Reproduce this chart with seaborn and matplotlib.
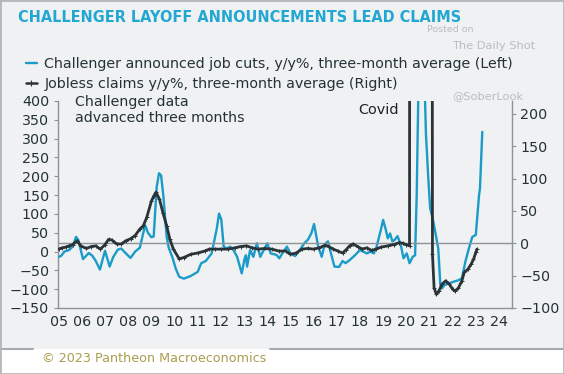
import pandas as pd
import numpy as np
import matplotlib
matplotlib.use("Agg")
import matplotlib.pyplot as plt
from matplotlib.lines import Line2D
from matplotlib.patches import Rectangle
import seaborn as sns

# Challenger job cuts, y/y%, 3m avg (left axis), advanced three months
cuts_year = [2005.00, 2005.10, 2005.25, 2005.45, 2005.60, 2005.75, 2005.85, 2006.05, 2006.30, 2006.45,
             2006.60, 2006.78, 2006.90, 2007.00, 2007.20, 2007.35, 2007.55, 2007.70, 2007.90, 2008.10,
             2008.30, 2008.50, 2008.73, 2008.85, 2009.00, 2009.10, 2009.23, 2009.33, 2009.42, 2009.52,
             2009.66, 2009.75, 2009.90, 2010.05, 2010.20, 2010.40, 2010.70, 2011.00, 2011.15, 2011.35,
             2011.60, 2011.72, 2011.82, 2011.92, 2012.02, 2012.12, 2012.25, 2012.40, 2012.55, 2012.70,
             2012.90, 2013.02, 2013.08, 2013.13, 2013.26, 2013.40, 2013.55, 2013.70, 2013.85, 2014.00,
             2014.15, 2014.40, 2014.52, 2014.70, 2014.85, 2015.00, 2015.20, 2015.40, 2015.60, 2015.75,
             2015.90, 2016.02, 2016.20, 2016.35, 2016.48, 2016.62, 2016.75, 2016.90, 2017.10, 2017.25,
             2017.38, 2017.55, 2017.80, 2018.00, 2018.30, 2018.45, 2018.60, 2018.72, 2018.90, 2019.00,
             2019.12, 2019.20, 2019.30, 2019.40, 2019.50, 2019.62, 2019.76, 2019.88, 2020.02, 2020.14,
             2020.28, 2020.38, 2020.45, 2020.52, 2020.62, 2020.72, 2020.81, 2020.85, 2020.95, 2021.03,
             2021.17, 2021.30, 2021.38, 2021.47, 2021.54, 2021.65, 2021.83, 2022.05, 2022.26, 2022.40,
             2022.55, 2022.70, 2022.85, 2023.00, 2023.07, 2023.14, 2023.18, 2023.28]
cuts_val = [-14, -12, 0, 4, 13, 39, 30, -20, -4, -11,
            -25, -48, -20, 2, -40, -15, 5, 8, -5, -17,
            0, 10, 70, 50, 38, 40, 172, 208, 202, 146,
            39, 10, -14, -45, -67, -72, -65, -54, -31, -25,
            -5, 30, 60, 101, 84, 13, 8, 13, 3, -14,
            -58, -20, -10, -40, 4, -14, 22, -14, 4, 22,
            -5, -9, -18, 0, 13, -5, -12, 4, 22, 31,
            48, 73, 13, -14, 19, 27, -5, -40, -41, -25,
            -31, -23, -9, 4, -5, 0, -5, 13, 57, 84,
            57, 35, 48, 27, 31, 41, 19, -18, -5, -31,
            -14, -10, 150, 420, 1500, 1800, 400, 310, 195, 115,
            79, 35, 8, -89, -98, -89, -85, -80, -76, -71,
            -27, 8, 39, 44, 97, 150, 168, 318]

# Jobless claims, y/y%, 3m avg (right axis)
claims_year = [2005.00, 2005.15, 2005.30, 2005.45, 2005.60, 2005.80, 2005.95, 2006.20, 2006.40, 2006.60,
               2006.80, 2007.00, 2007.15, 2007.30, 2007.50, 2007.70, 2007.90, 2008.10, 2008.30, 2008.50,
               2008.65, 2008.80, 2009.00, 2009.10, 2009.20, 2009.35, 2009.50, 2009.66, 2009.80, 2009.95,
               2010.20, 2010.40, 2010.70, 2011.00, 2011.30, 2011.50, 2011.75, 2012.00, 2012.30, 2012.60,
               2012.85, 2013.10, 2013.35, 2013.60, 2013.90, 2014.20, 2014.50, 2014.80, 2015.00, 2015.25,
               2015.50, 2015.75, 2016.00, 2016.25, 2016.50, 2016.65, 2016.85, 2017.05, 2017.25, 2017.40,
               2017.55, 2017.70, 2017.90, 2018.10, 2018.30, 2018.50, 2018.70, 2018.90, 2019.20, 2019.45,
               2019.70, 2019.85, 2020.00, 2020.14, 2020.16, 2020.50, 2020.80, 2021.11, 2021.13, 2021.20,
               2021.30, 2021.40, 2021.55, 2021.70, 2021.85, 2022.00, 2022.10, 2022.25, 2022.40, 2022.50,
               2022.66, 2022.80, 2022.90, 2023.00, 2023.05]
claims_val = [-9, -7, -6, -4, -2, 4, -4, -8, -5, -4,
              -9, -2, 6, 5, -1, -1, 4, 7, 12, 22,
              27, 40, 65, 73, 79, 68, 47, 27, 6, -9,
              -24, -22, -17, -15, -12, -9, -9, -9, -9, -7,
              -5, -4, -7, -9, -8, -9, -12, -12, -17, -15,
              -9, -8, -9, -7, -3, -5, -9, -12, -15, -10,
              -4, -1, -5, -9, -7, -11, -9, -6, -4, -2,
              1, 0, -2, -4, 1500, 2500, 2000, 800, -17, -69,
              -79, -74, -63, -58, -63, -71, -74, -69, -58, -45,
              -40, -32, -25, -14, -9]

year_ticks = list(range(2005, 2025))
year_labels = [f"{y % 100:02d}" for y in year_ticks]
left_ticks = [-150, -100, -50, 0, 50, 100, 150, 200, 250, 300, 350, 400]
right_ticks = [-100, -50, 0, 50, 100, 150, 200]

cuts = pd.DataFrame({"year": cuts_year, "val": cuts_val})
claims = pd.DataFrame({"year": claims_year, "val": claims_val})

sns.set_theme(style="white")
plt.rcParams["font.family"] = ["DejaVu Sans"]

blue = "#1a9bc9"
dark = "#2a3337"
txt = "#243238"
bg = "#eff1f2"

fig = plt.figure(figsize=(5.64, 3.74), dpi=100)
fig.patch.set_facecolor(bg)
ax = fig.add_axes([0.102, 0.1765, 0.8053, 0.5535])
ax.set_facecolor("none")
ax2 = ax.twinx()

# footer area
fig.patches.append(Rectangle((0, 0), 1, 25 / 374, transform=fig.transFigure, facecolor="white", edgecolor="none", zorder=0))
fig.add_artist(Line2D([0, 33 / 564], [1 - 349 / 374] * 2, color="#a3abb1", lw=1.5))
fig.add_artist(Line2D([270 / 564, 1], [1 - 349 / 374] * 2, color="#a3abb1", lw=1.5))
fig.patches.append(Rectangle((0, 0), 1, 1, transform=fig.transFigure, facecolor="none", edgecolor="#b5b8ba", lw=2, zorder=10))

ax2.axhline(0, color="#8d9397", lw=1, zorder=1)
sns.lineplot(data=cuts, x="year", y="val", ax=ax, color=blue, lw=1.7, zorder=3)
sns.lineplot(data=claims, x="year", y="val", ax=ax2, color=dark, lw=2.0, marker="+", markersize=3,
             markeredgewidth=0.7, markeredgecolor=dark, zorder=4)

ax.set_xlim(2004.95, 2024.55)
ax.set_ylim(-150, 400)
ax2.set_ylim(-100, 220)
ax.set_xticks(year_ticks)
ax.set_xticklabels(year_labels)
ax.set_yticks(left_ticks)
ax2.set_yticks(right_ticks)
for a in (ax, ax2):
    a.set_xlabel("")
    a.set_ylabel("")
    a.tick_params(axis="both", length=3, width=0.8, color="#8d9397", labelsize=10.3, labelcolor=txt, pad=3)
    a.spines["top"].set_visible(False)
    for s in ("left", "right", "bottom"):
        a.spines[s].set_color("#8d9397")
        a.spines[s].set_linewidth(1)
ax.spines["right"].set_visible(False)
ax2.spines["left"].set_visible(False)
ax2.spines["bottom"].set_visible(False)
ax.tick_params(axis="x", pad=2)

# titles and notes
fig.text(18 / 564, 1 - 18 / 374, "CHALLENGER LAYOFF ANNOUNCEMENTS LEAD CLAIMS", color="#22a7d3",
         fontsize=10.45, fontweight="bold", va="center", ha="left")
handles = [Line2D([], [], color=blue, lw=1.7),
           Line2D([], [], color=dark, lw=1.8, marker="+", markersize=4, markeredgewidth=0.8)]
fig.legend(handles, ["Challenger announced job cuts, y/y%, three-month average (Left)",
                     "Jobless claims y/y%, three-month average (Right)"],
           loc="upper left", bbox_to_anchor=(20 / 564, 1 - 51 / 374), frameon=False, fontsize=10.3,
           handlelength=0.8, handletextpad=0.5, labelspacing=0.45, borderaxespad=0, labelcolor=txt)
fig.text(75 / 564, 1 - 110 / 374, "Challenger data\nadvanced three months", color=txt, fontsize=10.2,
         va="center", ha="left", linespacing=1.1)
fig.text(358 / 564, 1 - 110 / 374, "Covid", color="#1c2226", fontsize=10.4, va="center", ha="left")
fig.text(42 / 564, 1 - 359 / 374, "© 2023 Pantheon Macroeconomics", color="#a99d4d", fontsize=9.2,
         va="center", ha="left")

# watermark
wm = "#b9bdc1"
fig.text(427 / 564, 1 - 29 / 374, "Posted on", color=wm, fontsize=6.8, va="center", ha="left")
fig.text(452 / 564, 1 - 46 / 374, "The Daily Shot", color=wm, fontsize=8.2, va="center", ha="left")
fig.text(452 / 564, 1 - 96 / 374, "@SoberLook", color=wm, fontsize=8.2, va="center", ha="left")

fig.savefig("out.png", dpi=100, facecolor=fig.get_facecolor())
